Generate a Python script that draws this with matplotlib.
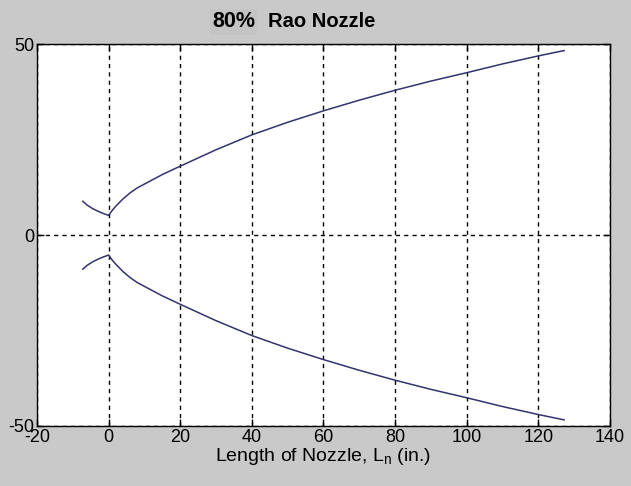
import numpy as np
import matplotlib.pyplot as plt

plt.rcParams['font.family'] = ['Liberation Sans', 'DejaVu Sans']
plt.rcParams['axes.unicode_minus'] = False

# nozzle contour (radius, in.)
x_conv = [-7.2, -6.0, -4.5, -3.0, -1.5, 0.0]
r_conv = [8.9, 7.9, 7.0, 6.3, 5.7, 5.2]
x_div = [0.0, 1, 2, 4, 6, 8, 11, 15, 20, 30, 40, 50, 60, 70, 80, 90, 100, 110, 120, 127.2]
r_div = [5.2, 6.5, 7.6, 9.5, 11.1, 12.4, 13.9, 15.9, 18.1, 22.4, 26.3, 29.6, 32.6, 35.4, 38.0, 40.4, 42.6, 44.9, 47.0, 48.4]

xticks = [-20, 0, 20, 40, 60, 80, 100, 120, 140]
yticks = [-50, 0, 50]

bg = '#c9c9c9'
col = '#33336e'

fig = plt.figure(figsize=(6.31, 4.86), dpi=100, facecolor=bg)
ax = fig.add_axes([0.0586, 0.1235, 0.908, 0.785])

x_all = np.array(x_conv + x_div[1:])
r_all = np.array(r_conv + r_div[1:])
ax.plot(x_all, r_all, color=col, lw=1.1)
ax.plot(x_all, -r_all, color=col, lw=1.1)

ax.set_xlim(-20, 140)
ax.set_ylim(-50, 50)
ax.set_xticks(xticks)
ax.set_yticks(yticks)
ax.grid(True, color='black', linestyle=(0, (3, 3)), lw=1)
ax.tick_params(direction='in', length=5, top=True, right=True, labelsize=13, pad=2, width=1)
for s in ax.spines.values():
    s.set_linewidth(1)

ax.set_xlabel('Length of Nozzle, L$_\\mathregular{n}$ (in.)', fontsize=14, labelpad=0)

fig.text(0.336, 0.955, '80%', fontsize=15.5, fontweight='bold', ha='left', va='center',
         bbox=dict(facecolor='#c4c4c4', edgecolor='none', pad=1.5))
fig.text(0.424, 0.955, 'Rao Nozzle', fontsize=14.5, fontweight='bold', ha='left', va='center')

fig.savefig('out.png', dpi=100, facecolor=bg)
